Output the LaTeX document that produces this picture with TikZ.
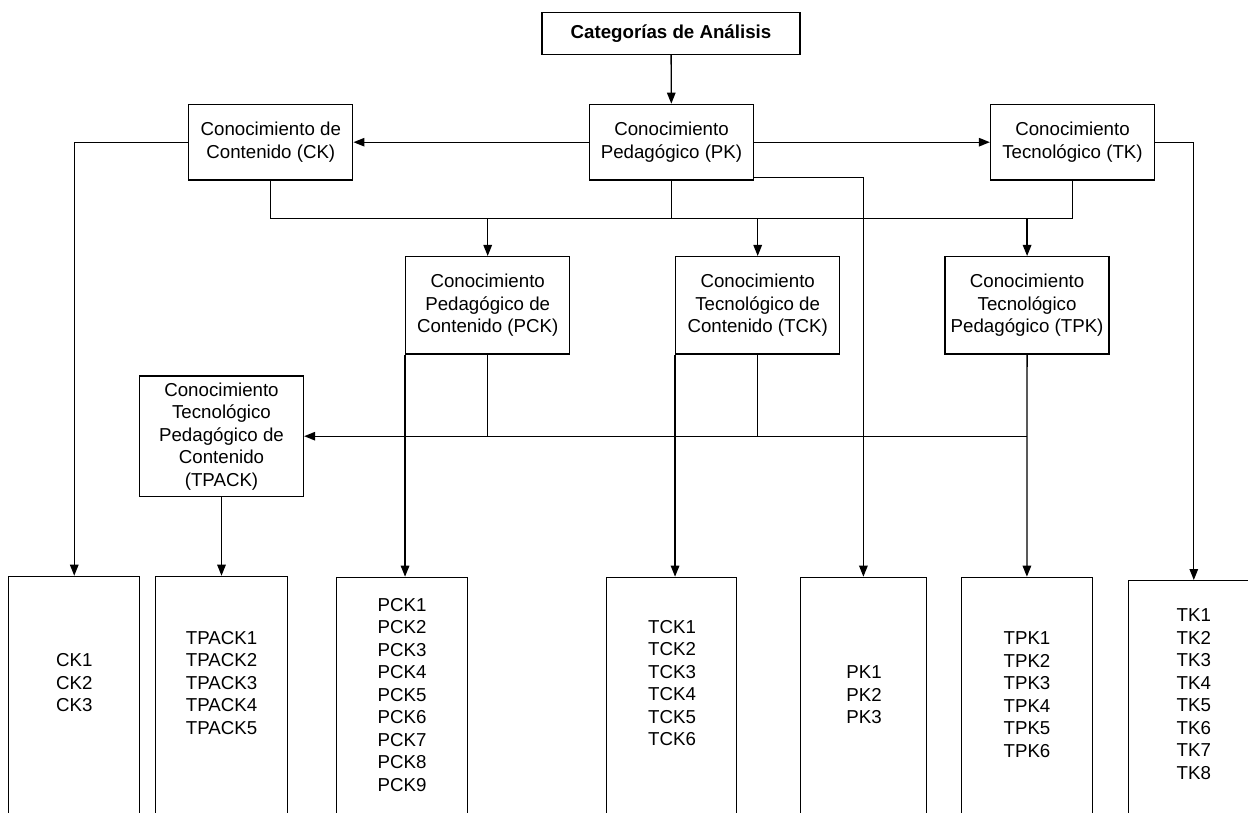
\documentclass[tikz,border=0pt]{standalone}
\usepackage{fontspec}
\setmainfont{Liberation Sans}
\usetikzlibrary{arrows.meta}
\tikzset{
  box/.style={draw, line width=1.3pt, align=center, inner sep=0pt, minimum height=75.7pt, minimum width=164pt},
  mid/.style={box, minimum height=97.3pt},
  listbox/.style={draw, line width=1.3pt, anchor=north, minimum height=260pt, inner sep=0pt},
  listtxt/.style={align=center, inner sep=0pt},
  conn/.style={line width=1.3pt},
  arr/.style={conn, -{Triangle[length=11pt,width=8.5pt]}}
}
\begin{document}
\begin{tikzpicture}[x=1pt,y=-1pt,font=\fontsize{18.7}{22.5}\selectfont]
\useasboundingbox (0,0) rectangle (1248,813);
\fill[white] (0,0) rectangle (1248,813);
\clip (0,0) rectangle (1248,813);

% top
\node[box, minimum width=258pt, minimum height=42pt, font=\fontsize{18.7}{22.5}\selectfont\bfseries] (title) at (671,33.3) {Categorías de Análisis};
\node[box] (CK) at (270.8,142.2) {Conocimiento de\\Contenido (CK)};
\node[box] (PK) at (671.5,142.2) {Conocimiento\\Pedagógico (PK)};
\node[box] (TK) at (1072.5,142.2) {Conocimiento\\Tecnológico (TK)};

% middle
\node[mid] (PCK) at (487.7,305.3) {Conocimiento\\Pedagógico de\\Contenido (PCK)};
\node[mid] (TCK) at (757.7,305.3) {Conocimiento\\Tecnológico de\\Contenido (TCK)};
\node[mid] (TPK) at (1027.1,305.3) {Conocimiento\\Tecnológico\\Pedagógico (TPK)};
\node[box, minimum height=120.3pt] (TPACK) at (221.5,436.2) {Conocimiento\\Tecnológico\\Pedagógico de\\Contenido\\(TPACK)};

% list boxes
\node[listbox, minimum width=131pt] (ckl) at (74.25,575.7) {};
\node[listbox, minimum width=131.7pt] (tpackl) at (221.5,575.7) {};
\node[listbox, minimum width=131.3pt] (pckl) at (402,576.7) {};
\node[listbox, minimum width=130pt] (tckl) at (671.7,576.7) {};
\node[listbox, minimum width=126pt] (pkl) at (863.4,576.7) {};
\node[listbox, minimum width=131pt] (tpkl) at (1026.9,576.7) {};
\node[listbox, minimum width=131.2pt, minimum height=232.5pt] (tkl) at (1193.8,580) {};

\node[listtxt] (ckt) at (74.4,682.7) {CK1\\CK2\\CK3};
\node[listtxt] (tpackt) at (221.6,682.7) {TPACK1\\TPACK2\\TPACK3\\TPACK4\\TPACK5};
\node[listtxt] (pckt) at (402,694.7) {PCK1\\PCK2\\PCK3\\PCK4\\PCK5\\PCK6\\PCK7\\PCK8\\PCK9};
\node[listtxt] (tckt) at (672,683) {TCK1\\TCK2\\TCK3\\TCK4\\TCK5\\TCK6};
\node[listtxt] (pkt) at (864,694.8) {PK1\\PK2\\PK3};
\node[listtxt] (tpkt) at (1027,694.5) {TPK1\\TPK2\\TPK3\\TPK4\\TPK5\\TPK6};
\node[listtxt] (tkt) at (1193.8,694) {TK1\\TK2\\TK3\\TK4\\TK5\\TK6\\TK7\\TK8};

% connectors
\coordinate (bus) at (0,218.3);
\draw[arr] (title) -- (PK);
\draw[arr] (PK) -- (CK);
\draw[arr] (PK) -- (TK);
\draw[arr] (CK.west) -| (ckl.north);
\draw[arr] (TK.east) -| (tkl.north);
\draw[arr] ([yshift=3pt]PK.south east) -| (pkl.north);

\draw[conn] (CK.south) -- (CK.south |- bus) -- (TK.south |- bus) -- (TK.south);
\draw[conn] (PK.south) -- (PK.south |- bus);
\draw[arr] (PCK.north |- bus) -- (PCK.north);
\draw[arr] (TCK.north |- bus) -- (TCK.north);
\draw[arr] (TPK.north |- bus) -- (TPK.north);

\draw[arr] (PCK.south west) -- (PCK.south west |- pckl.north);
\draw[arr] (TCK.south west) -- (TCK.south west |- tckl.north);
\draw[arr] (TPK.south) -- (tpkl.north);
\draw[conn] (PCK.south) -- (PCK.south |- TPACK.east);
\draw[conn] (TCK.south) -- (TCK.south |- TPACK.east);
\draw[arr] (TPK.south |- TPACK.east) -- (TPACK.east);
\draw[arr] (TPACK.south) -- (tpackl.north);
\end{tikzpicture}
\end{document}
